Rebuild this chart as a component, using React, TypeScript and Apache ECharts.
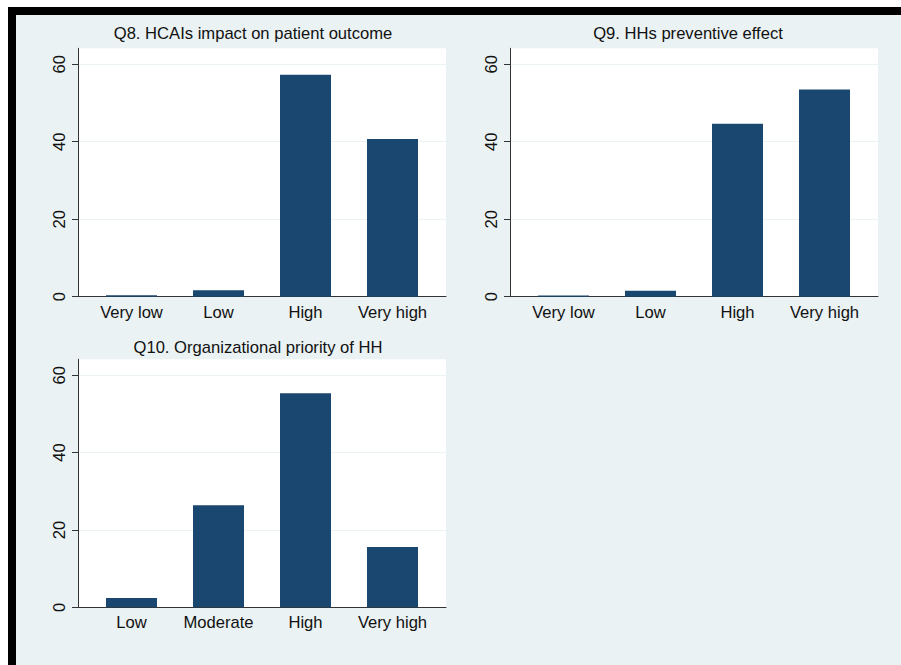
import React, { useEffect, useRef } from "react";
import * as echarts from "echarts";

const q8Title = "Q8. HCAIs impact on patient outcome";
const q9Title = "Q9. HHs preventive effect";
const q10Title = "Q10. Organizational priority of HH";

const q8Categories = ["Very low", "Low", "High", "Very high"];
const q8Values = [0.35, 1.65, 57.3, 40.7];

const q9Categories = ["Very low", "Low", "High", "Very high"];
const q9Values = [0.3, 1.55, 44.6, 53.5];

const q10Categories = ["Low", "Moderate", "High", "Very high"];
const q10Values = [2.4, 26.4, 55.3, 15.6];

const yTicks = [0, 20, 40, 60];

const FONT = "'Liberation Sans', Arial, Helvetica, sans-serif";
const TEXT = "#111111";
const AXIS = "#333333";
const BG = "#EAF2F3";
const BAR = "#1A476F";
const FS = 16.6;

export default function App() {
  const ref = useRef<HTMLDivElement>(null);

  useEffect(() => {
    if (!ref.current) return;
    const chart = echarts.init(ref.current, null, { renderer: "svg" });

    const panels = [
      { title: q8Title, cats: q8Categories, vals: q8Values, left: 78, top: 48.3, height: 248.4, tx: 253, ty: 33.5 },
      { title: q9Title, cats: q9Categories, vals: q9Values, left: 510, top: 48.3, height: 248.4, tx: 688, ty: 33.5 },
      { title: q10Title, cats: q10Categories, vals: q10Values, left: 78, top: 359.3, height: 248, tx: 258, ty: 347.5 },
    ];

    const grid = panels.map((p) => ({
      left: p.left,
      top: p.top,
      width: 368,
      height: p.height,
      show: true,
      backgroundColor: "#ffffff",
      borderWidth: 0,
      containLabel: false,
    }));

    const xAxis = panels.map((p, i) => ({
      type: "value",
      gridIndex: i,
      min: -0.615,
      max: 3.615,
      axisLine: { show: true, onZero: false, lineStyle: { color: AXIS, width: 1 } },
      axisTick: { show: false },
      splitLine: { show: false },
      axisLabel: {
        show: true,
        customValues: [0, 1, 2, 3],
        formatter: (v: number) => p.cats[Math.round(v)] ?? "",
        color: TEXT,
        fontSize: FS,
        fontFamily: FONT,
        margin: 7,
      },
    }));

    const yAxis = panels.map((p, i) => ({
      type: "value",
      gridIndex: i,
      min: 0,
      max: 64.1,
      interval: 20,
      axisLine: { show: true, onZero: false, lineStyle: { color: AXIS, width: 1 } },
      axisTick: { show: true, length: 6, customValues: yTicks, lineStyle: { color: AXIS, width: 1 } },
      splitLine: { show: true, lineStyle: { color: BG, width: 1.2 } },
      axisLabel: {
        show: true,
        customValues: yTicks,
        rotate: 90,
        margin: 10,
        color: TEXT,
        fontSize: FS,
        fontFamily: FONT,
      },
    }));

    const series = panels.map((p, i) => ({
      type: "bar",
      xAxisIndex: i,
      yAxisIndex: i,
      barWidth: 51,
      itemStyle: { color: BAR },
      data: p.vals.map((v, k) => [k, v]),
    }));

    const graphic = [
      { type: "rect", shape: { x: 0, y: 0, width: 901, height: 7 }, style: { fill: "#ffffff" }, silent: true },
      { type: "rect", shape: { x: 0, y: 0, width: 8, height: 665 }, style: { fill: "#ffffff" }, silent: true },
      { type: "rect", shape: { x: 8, y: 7, width: 893, height: 8 }, style: { fill: "#000000" }, silent: true },
      { type: "rect", shape: { x: 8, y: 7, width: 8, height: 658 }, style: { fill: "#000000" }, silent: true },
      ...panels.map((p) => ({
        type: "text",
        x: p.tx,
        y: p.ty,
        silent: true,
        style: {
          text: p.title,
          fill: TEXT,
          fontSize: FS,
          fontFamily: FONT,
          align: "center",
          verticalAlign: "middle",
        },
      })),
    ];

    chart.setOption({
      animation: false,
      backgroundColor: BG,
      grid,
      xAxis,
      yAxis,
      series,
      graphic,
    });

    return () => chart.dispose();
  }, []);

  return (
    <div
      ref={ref}
      style={{ position: "absolute", left: 0, top: 0, width: 901, height: 665 }}
    />
  );
}
